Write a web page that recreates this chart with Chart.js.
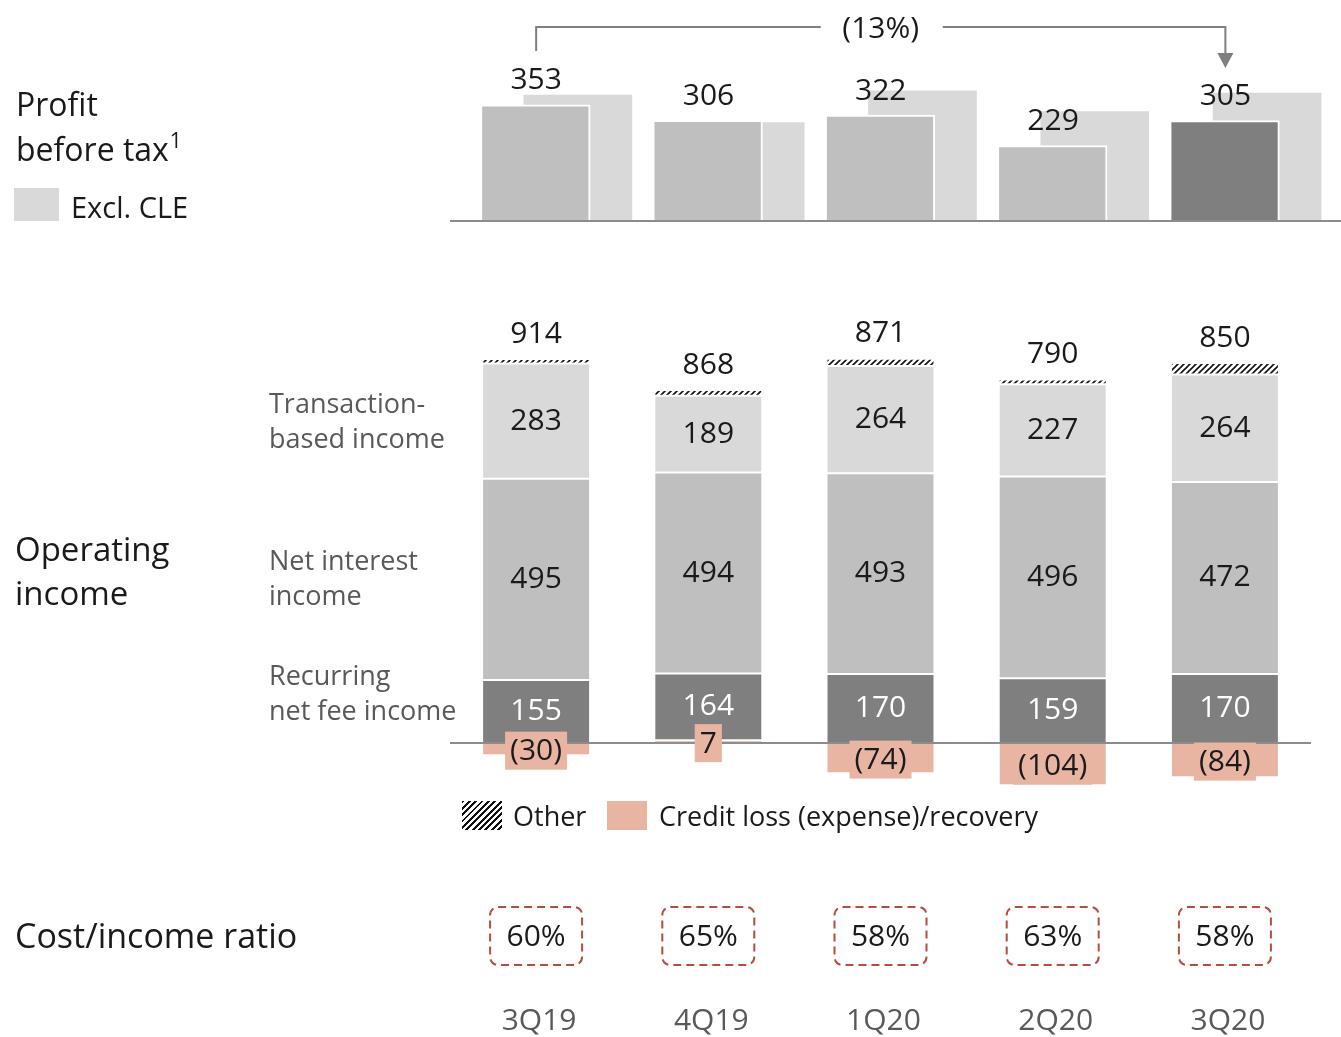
<!DOCTYPE html>
<html><head><meta charset="utf-8">
<script src="https://cdn.jsdelivr.net/npm/chart.js@4.4.1/dist/chart.umd.min.js"></script>
<style>
html,body{margin:0;padding:0;background:#fff;width:1341px;height:1037px;overflow:hidden;}
body{position:relative;font-family:"Open Sans",sans-serif;color:#1a1a1a;}
.t{position:absolute;white-space:nowrap;}
.g{color:#595959;font-size:27px;line-height:35px;}
.big{font-size:33px;line-height:44px;}
canvas{position:absolute;left:0;top:0;}
.sw{position:absolute;width:40px;height:29px;}
</style></head><body>
<div style="position:absolute;left:0;top:0;width:1341px;height:240px"><canvas id="pbt" width="1341" height="240" style="width:1341px;height:240px"></canvas></div>
<div style="position:absolute;left:0;top:300px;width:1341px;height:737px"><canvas id="oi" width="1341" height="737" style="width:1341px;height:737px"></canvas></div>

<div class="t" style="left:16px;top:81px;font-size:32px;line-height:45px;">Profit<br>before tax<span style="font-size:21px;position:relative;top:-13px;margin-left:1px">1</span></div>
<div class="sw" style="left:14px;top:188px;width:45px;height:33px;background:#d9d9d9"></div>
<div class="t" style="left:71px;top:189px;font-size:29px;line-height:36px;">Excl. CLE</div>

<div class="t big" style="left:15px;top:527px;">Operating<br>income</div>
<div class="t g" style="left:269px;top:385px;">Transaction-<br>based income</div>
<div class="t g" style="left:269px;top:542px;">Net interest<br>income</div>
<div class="t g" style="left:269px;top:657px;">Recurring<br>net fee income</div>

<div class="sw" style="left:462px;top:801px;background:repeating-linear-gradient(135deg,#111 0 2px,#fff 2px 4.5px)"></div>
<div class="t" style="left:513px;top:798px;font-size:27px;line-height:35px;">Other</div>
<div class="sw" style="left:607px;top:801px;background:#e7b5a2"></div>
<div class="t" style="left:659px;top:798px;font-size:27px;line-height:35px;">Credit loss (expense)/recovery</div>

<div class="t" style="left:15px;top:913px;font-size:34px;line-height:44px;">Cost/income ratio</div>

<script>
// ---- data ----
const quarters = ['3Q19','4Q19','1Q20','2Q20','3Q20'];
const profitBeforeTax = [353, 306, 322, 229, 305];
const profitExclCLE = [383, 299, 396, 333, 389];
const pbtChangeLabel = '(13%)';
const creditLoss = [-30, 7, -74, -104, -84];
const recurringNetFee = [155, 164, 170, 159, 170];
const netInterest = [495, 494, 493, 496, 472];
const transactionBased = [283, 189, 264, 227, 264];
const otherIncome = [11, 14, 18, 12, 28];
const operatingTotal = [914, 868, 871, 790, 850];
const costIncomeRatio = [60, 65, 58, 63, 58];

// ---- styling ----
const FONT = '"Open Sans", sans-serif';
const INK = '#1a1a1a';
const AXIS = '#8c8c8c';
Chart.defaults.font.family = FONT;
const fmt = v => v < 0 ? '(' + (-v) + ')' : String(v);

function hatchPattern() {
  const c = document.createElement('canvas');
  c.width = 6; c.height = 6;
  const g = c.getContext('2d');
  g.fillStyle = '#fff'; g.fillRect(0, 0, 6, 6);
  g.strokeStyle = '#111'; g.lineWidth = 1.6;
  g.beginPath();
  g.moveTo(0, 6); g.lineTo(6, 0);
  g.moveTo(-3, 3); g.lineTo(3, -3);
  g.moveTo(3, 9); g.lineTo(9, 3);
  g.stroke();
  return g.createPattern(c, 'repeat');
}

// ---- Profit before tax chart ----
const xShift = 0.242;
const pbtPlugin = {
  id: 'pbtDeco',
  afterDatasetsDraw(chart) {
    const ctx = chart.ctx, ys = chart.scales.y, ca = chart.chartArea;
    const y0 = ys.getPixelForValue(0);
    ctx.save();
    ctx.strokeStyle = AXIS; ctx.lineWidth = 2;
    ctx.beginPath(); ctx.moveTo(ca.left, y0); ctx.lineTo(ca.right, y0); ctx.stroke();
    const meta = chart.getDatasetMeta(0);
    ctx.font = '30px ' + FONT; ctx.fillStyle = INK;
    ctx.textAlign = 'center'; ctx.textBaseline = 'middle';
    meta.data.forEach((bar, i) => ctx.fillText(String(profitBeforeTax[i]), bar.x, bar.y - 24));
    // bracket with change
    const xa = meta.data[0].x, xb = meta.data[meta.data.length - 1].x, mid = (xa + xb) / 2;
    const yl = 27;
    ctx.strokeStyle = '#7f7f7f'; ctx.lineWidth = 2;
    ctx.beginPath();
    ctx.moveTo(xa, 51); ctx.lineTo(xa, yl); ctx.lineTo(mid - 60, yl);
    ctx.moveTo(mid + 62, yl); ctx.lineTo(xb, yl); ctx.lineTo(xb, 55);
    ctx.stroke();
    ctx.fillStyle = '#7f7f7f';
    ctx.beginPath(); ctx.moveTo(xb - 8, 53); ctx.lineTo(xb + 8, 53); ctx.lineTo(xb, 68); ctx.closePath(); ctx.fill();
    ctx.fillStyle = INK;
    ctx.fillText(pbtChangeLabel, mid, 29);
    ctx.restore();
  }
};
new Chart(document.getElementById('pbt'), {
  type: 'bar',
  data: {
    datasets: [
      { label: 'Profit before tax', xAxisID: 'x', yAxisID: 'y',
        data: profitBeforeTax.map((v, i) => ({ x: i, y: v })),
        backgroundColor: profitBeforeTax.map((v, i) => i === profitBeforeTax.length - 1 ? '#7f7f7f' : '#bfbfbf'),
        borderColor: '#fff', borderWidth: { top: 2, right: 2, left: 0, bottom: 0 }, borderSkipped: false,
        barThickness: 108, grouped: false },
      { label: 'Excl. CLE', xAxisID: 'x2', yAxisID: 'y',
        data: profitExclCLE.map((v, i) => ({ x: i, y: v })),
        backgroundColor: '#d9d9d9', borderWidth: 0, barThickness: 108, grouped: false }
    ]
  },
  options: {
    responsive: false, animation: false,
    layout: { padding: { left: 450, right: 0, top: 0, bottom: 19 } },
    plugins: { legend: { display: false }, tooltip: { enabled: false } },
    scales: {
      x: { type: 'linear', display: false, offset: false, min: -0.5, max: 4.671 },
      x2: { type: 'linear', display: false, offset: false, min: -0.5 - xShift, max: 4.671 - xShift },
      y: { display: false, min: 0, max: 672 }
    }
  },
  plugins: [pbtPlugin]
});

// ---- Operating income chart ----
const oiPlugin = {
  id: 'oiDeco',
  afterDatasetsDraw(chart) {
    const ctx = chart.ctx, ys = chart.scales.y, ca = chart.chartArea;
    const y0 = ys.getPixelForValue(0);
    ctx.save();
    ctx.strokeStyle = AXIS; ctx.lineWidth = 2;
    ctx.beginPath(); ctx.moveTo(ca.left, y0); ctx.lineTo(ca.right, y0); ctx.stroke();
    ctx.font = '30px ' + FONT; ctx.textAlign = 'center'; ctx.textBaseline = 'middle';
    const mid = el => (el.y + el.base) / 2;
    const credit = chart.getDatasetMeta(0).data;
    const rec = chart.getDatasetMeta(1).data;
    const nii = chart.getDatasetMeta(2).data;
    const tbi = chart.getDatasetMeta(3).data;
    const oth = chart.getDatasetMeta(4).data;
    quarters.forEach((q, i) => {
      ctx.fillStyle = '#fff';
      ctx.fillText(String(recurringNetFee[i]), rec[i].x, mid(rec[i]));
      ctx.fillStyle = INK;
      ctx.fillText(String(netInterest[i]), nii[i].x, mid(nii[i]));
      ctx.fillText(String(transactionBased[i]), tbi[i].x, mid(tbi[i]));
      ctx.fillText(String(operatingTotal[i]), oth[i].x, oth[i].y - 25);
      const t = fmt(creditLoss[i]);
      const tw = ctx.measureText(t).width;
      const cy = mid(credit[i]) + 1.5;
      ctx.fillStyle = '#e7b5a2';
      ctx.fillRect(credit[i].x - tw / 2 - 5, cy - 19, tw + 10, 38);
      ctx.fillStyle = INK;
      ctx.fillText(t, credit[i].x, cy + 1);
    });
    ctx.restore();
  },
  afterDraw(chart) {
    const ctx = chart.ctx, xs = chart.scales.x;
    ctx.save();
    ctx.textAlign = 'center'; ctx.textBaseline = 'middle';
    ctx.font = '30px ' + FONT;
    quarters.forEach((q, i) => {
      const x = xs.getPixelForValue(i);
      // cost/income box
      const w = 92, h = 58, cy = 636;
      ctx.strokeStyle = '#b84c3f'; ctx.lineWidth = 2; ctx.setLineDash([8, 5]);
      ctx.beginPath();
      if (ctx.roundRect) ctx.roundRect(x - w / 2, cy - h / 2, w, h, 8); else ctx.rect(x - w / 2, cy - h / 2, w, h);
      ctx.stroke();
      ctx.setLineDash([]);
      ctx.fillStyle = INK;
      ctx.fillText(costIncomeRatio[i] + '%', x, cy + 1);
      // quarter label
      ctx.fillStyle = '#595959';
      ctx.fillText(q, x + 3, 721);
    });
    ctx.restore();
  }
};
const segBorder = { borderColor: '#fff', borderWidth: 1, borderSkipped: false, stack: 'oi' };
new Chart(document.getElementById('oi'), {
  type: 'bar',
  data: {
    labels: quarters,
    datasets: [
      Object.assign({ label: 'Credit loss (expense)/recovery', data: creditLoss, backgroundColor: '#e7b5a2' }, segBorder),
      Object.assign({ label: 'Recurring net fee income', data: recurringNetFee, backgroundColor: '#7f7f7f' }, segBorder),
      Object.assign({ label: 'Net interest income', data: netInterest, backgroundColor: '#bfbfbf' }, segBorder),
      Object.assign({ label: 'Transaction-based income', data: transactionBased, backgroundColor: '#d9d9d9' }, segBorder),
      Object.assign({ label: 'Other', data: otherIncome, backgroundColor: hatchPattern() }, segBorder)
    ]
  },
  options: {
    responsive: false, animation: false,
    layout: { padding: { left: 450, right: 30, top: 20, bottom: 237 } },
    datasets: { bar: { barPercentage: 0.627, categoryPercentage: 1 } },
    plugins: { legend: { display: false }, tooltip: { enabled: false } },
    scales: {
      x: { display: false, stacked: true },
      y: { display: false, stacked: true, min: -140, max: 1040 }
    }
  },
  plugins: [oiPlugin]
});
</script>
</body></html>
